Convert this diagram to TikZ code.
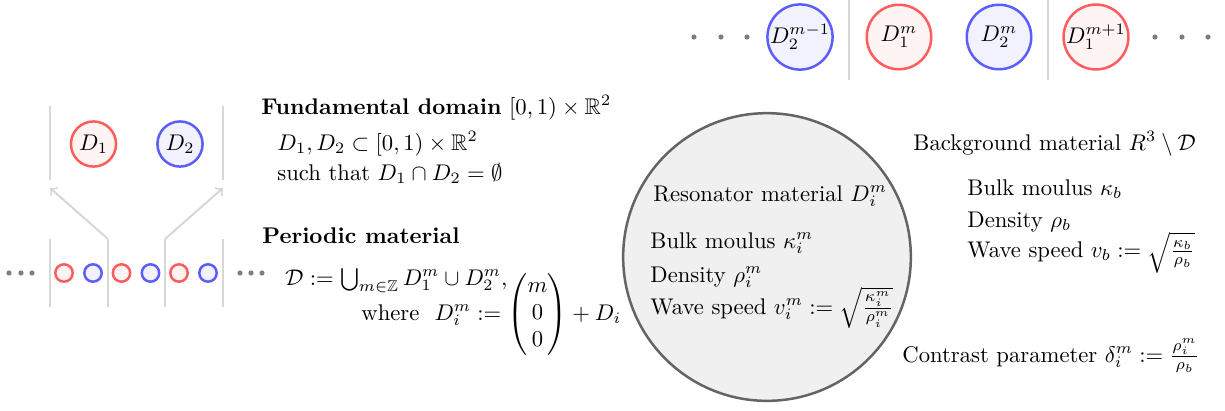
\documentclass[tikz,border=0pt]{standalone}
\usepackage{amsmath}
\usepackage{amssymb}
\usepackage{tikz}
\usetikzlibrary{arrows, positioning, calc}
\definecolor{resred}{RGB}{255,92,92}
\definecolor{resblue}{RGB}{92,92,255}
\definecolor{cellline}{RGB}{215,215,215}
\definecolor{dotgray}{RGB}{125,125,125}
\definecolor{bubbleline}{RGB}{100,100,100}
\definecolor{bubblefill}{RGB}{240,240,240}

\begin{document}
\begin{tikzpicture}[x=0.0155cm, y=-0.0155cm,
    redres/.style={circle, draw=resred, fill=resred!7, line width=1.1pt, inner sep=0pt, minimum size=#1},
    blueres/.style={circle, draw=resblue, fill=resblue!8, line width=1.1pt, inner sep=0pt, minimum size=#1},
    wall/.style={draw=cellline, line width=0.9pt},
    lbl/.style={anchor=base west, inner sep=0pt},
]
    \useasboundingbox (0,0) rectangle (1225,410);

    % fundamental domain
    \draw[wall] (50,106) -- (50,180);
    \draw[wall] (223,106) -- (223,180);
    \node[redres=0.70cm] (d1) at (93.5,144) {$D_1$};
    \node[blueres=0.70cm] (d2) at (180,144) {$D_2$};

    % periodic material
    \foreach \x in {50,108,165,223}
        \draw[wall] (\x,239) -- (\x,307);
    \foreach \i in {0,1,2}{
        \node[redres=0.27cm] (r\i) at ({64+57.5*\i},273) {};
        \node[blueres=0.27cm] (b\i) at ({93+57.5*\i},273) {};
    }
    \foreach \x in {9,21,32,240,251,262}
        \fill[dotgray] (\x,273) circle[radius=0.04cm];

    \coordinate (lknee) at (108,239);
    \coordinate (ltip) at (50,188);
    \coordinate (rknee) at (165,239);
    \coordinate (rtip) at (223,188);
    \draw[wall,->] (lknee) -- (ltip);
    \draw[wall,->] (rknee) -- (rtip);

    \node[lbl] (fund) at (261,114) {\textbf{Fundamental domain} $[0,1)\times\mathbb{R}^2$};
    \node[lbl] (subset) at (277,150) {$D_1,D_2\subset[0,1)\times\mathbb{R}^2$};
    \node[lbl] (disj) at (277,180) {such that $D_1\cap D_2=\emptyset$};
    \node[lbl] (peri) at (262,243) {\textbf{Periodic material}};
    \node[lbl] (union) at (285,285) {$\mathcal{D}:=\bigcup_{m\in\mathbb{Z}}D_1^m\cup D_2^m$,};
    \node[lbl] (where) at (361,320) {where\ \ $D_i^m:=\begin{pmatrix}m\\0\\0\end{pmatrix}+D_i$};

    % resonator bubble
    \node[circle, draw=bubbleline, fill=bubblefill, line width=1.1pt, minimum size=4.46cm] (bubble) at (767,257) {};
    \node[lbl] (resmat) at (653,201) {Resonator material $D_i^m$};
    \node[lbl] (resk) at (650,248) {Bulk moulus $\kappa_i^m$};
    \node[lbl] (resrho) at (650,282) {Density $\rho_i^m$};
    \node[lbl] (resv) at (650,314) {Wave speed $v_i^m:=\sqrt{\frac{\kappa_i^m}{\rho_i^m}}$};

    % background
    \node[lbl] (bgmat) at (913,150) {Background material $R^3\setminus\mathcal{D}$};
    \node[lbl] (bgk) at (967,195) {Bulk moulus $\kappa_b$};
    \node[lbl] (bgrho) at (967,227) {Density $\rho_b$};
    \node[lbl] (bgv) at (967,257) {Wave speed $v_b:=\sqrt{\frac{\kappa_b}{\rho_b}}$};
    \node[lbl] (contrast) at (902,362) {Contrast parameter $\delta_i^m:=\frac{\rho_i^m}{\rho_b}$};

    % chain of resonators
    \foreach \x in {694,721,747,1155,1182,1208}
        \fill[dotgray] (\x,37) circle[radius=0.04cm];
    \draw[wall] (849,0) -- (849,80);
    \draw[wall] (1048,0) -- (1048,80);
    \node[blueres=1.0cm] (c0) at (800,37) {$D_2^{m-1}$};
    \node[redres=1.0cm] (c1) at (899,37) {$D_1^m$};
    \node[blueres=1.0cm] (c2) at (999,37) {$D_2^m$};
    \node[redres=1.0cm] (c3) at (1096,37) {$D_1^{m+1}$};
\end{tikzpicture}
\end{document}
